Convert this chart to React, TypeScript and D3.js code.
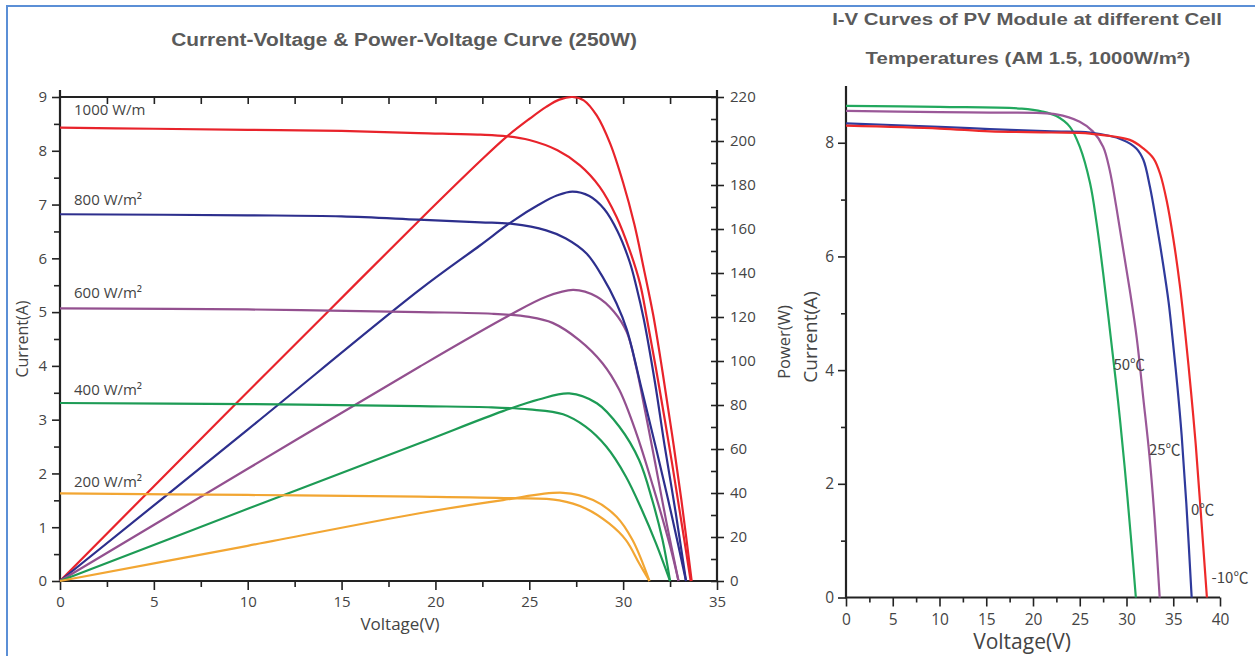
import React, { useEffect, useRef } from 'react'
import * as d3 from 'd3'

type Pt = [number, number]

// ---- left chart: I-V and P-V curves at different irradiance ----
const irrLabels = ['1000 W/m', '800 W/m²', '600 W/m²', '400 W/m²', '200 W/m²']
const irrColors = ['#e8232b', '#2d2f8d', '#93508f', '#1d9b55', '#f2a633']

const iv1000: Pt[] = [[0, 8.43], [5, 8.41], [10, 8.39], [15, 8.37], [19.1, 8.33], [22.4, 8.3], [23.8, 8.27], [25, 8.2], [26.5, 8.01], [27.7, 7.73], [28.75, 7.33], [29.65, 6.77], [30.35, 6.15], [30.9, 5.53], [31.25, 4.91], [31.9, 3.65], [32.6, 2.2], [33.15, 1.0], [33.6, 0]]
const iv800: Pt[] = [[0, 6.82], [10, 6.8], [15, 6.78], [19.1, 6.72], [22.4, 6.67], [24.1, 6.64], [25.9, 6.52], [26.95, 6.37], [28.05, 6.09], [28.9, 5.66], [29.65, 5.16], [30.2, 4.67], [31.0, 3.55], [31.8, 2.4], [32.6, 1.2], [33.35, 0]]
const iv600: Pt[] = [[0, 5.07], [10, 5.05], [19.15, 5.0], [23, 4.97], [25, 4.91], [26.24, 4.8], [27.66, 4.48], [28.9, 4.05], [29.8, 3.55], [30.7, 2.75], [31.6, 1.75], [32.5, 0.65], [32.95, 0]]
const iv400: Pt[] = [[0, 3.31], [10, 3.29], [19.15, 3.25], [23, 3.23], [25, 3.19], [26.8, 3.1], [28.0, 2.87], [29.1, 2.5], [30.15, 1.94], [31.0, 1.32], [31.75, 0.7], [32.5, 0]]
const iv200: Pt[] = [[0, 1.63], [10, 1.6], [19.15, 1.57], [24.1, 1.54], [26.6, 1.5], [28.0, 1.35], [29.25, 1.07], [30.15, 0.76], [30.85, 0.33], [31.4, 0]]

const pv1000: Pt[] = [[0, 0], [9.3, 80], [14.27, 122.4], [19.15, 164], [22.4, 191], [23.8, 202], [25, 210], [25.9, 215.5], [26.6, 218.8], [27.3, 220], [27.9, 218.5], [28.6, 211.5], [29.3, 199], [30.0, 181], [30.6, 162], [31.1, 142], [31.6, 121], [32.1, 95], [32.6, 67], [33.1, 37], [33.65, 0]]
const pv800: Pt[] = [[0, 0], [10, 68.8], [19.15, 132.3], [22.37, 152.5], [24.1, 163.5], [25.5, 171], [26.5, 175.3], [27.3, 177], [28.2, 175], [29.0, 169], [29.7, 159], [30.35, 145], [30.7, 134], [31.1, 119], [31.7, 90], [32.2, 62], [32.8, 31], [33.35, 0]]
const pv600: Pt[] = [[0, 0], [10, 51], [19.15, 97.4], [23.8, 120.1], [25.9, 129.2], [27.35, 132.3], [28.6, 129.2], [29.5, 122.5], [30.2, 113], [30.7, 97], [31.2, 76], [31.7, 54], [32.3, 27], [32.95, 0]]
const pv400: Pt[] = [[0, 0], [10, 32.8], [19.15, 62.6], [23.6, 77.2], [25.5, 82.5], [27.13, 85.3], [28.6, 80.8], [29.8, 70.1], [30.85, 55], [31.55, 36.8], [32.1, 18.6], [32.5, 0]]
const pv200: Pt[] = [[0, 0], [10, 16], [19.15, 30.8], [23.6, 36.8], [26.8, 40.1], [28.4, 36.8], [29.65, 29.2], [30.5, 18.6], [31.4, 0]]

const ivLeft = [iv1000, iv800, iv600, iv400, iv200]
const pvLeft = [pv1000, pv800, pv600, pv400, pv200]
const labelCurrent = [8.66, 7.0, 5.26, 3.46, 1.75]

// ---- right chart: I-V at different cell temperatures ----
const tempLabels = ['50℃', '25℃', '0℃', '-10℃']
const tempColors = ['#22a85e', '#9a5898', '#2f3a9c', '#ee2a2a']
const tempLabelPos: Pt[] = [[28.6, 4.0], [32.4, 2.5], [36.9, 1.45], [39.1, 0.25]]

const iv50: Pt[] = [[0, 8.65], [10, 8.63], [18.8, 8.6], [21, 8.55], [22.5, 8.47], [23.95, 8.28], [25.0, 7.93], [26.1, 7.29], [26.8, 6.59], [27.5, 5.71], [28.3, 4.6], [29.1, 3.45], [29.8, 2.3], [30.45, 1.1], [31.0, 0]]
const iv25: Pt[] = [[0, 8.56], [10, 8.54], [15.4, 8.53], [22.5, 8.5], [25.0, 8.37], [26.4, 8.2], [27.5, 7.93], [28.2, 7.52], [28.9, 6.88], [29.6, 6.17], [30.35, 5.41], [31.1, 4.56], [31.8, 3.5], [32.45, 2.5], [33.0, 1.4], [33.55, 0]]
const iv0: Pt[] = [[0, 8.34], [10, 8.28], [15.4, 8.24], [22, 8.2], [26.1, 8.18], [29.6, 8.05], [31.05, 7.9], [31.8, 7.7], [32.5, 7.23], [33.2, 6.59], [33.9, 5.88], [34.5, 5.2], [34.9, 4.6], [35.45, 3.7], [35.9, 2.85], [36.4, 1.65], [36.97, 0]]
const ivm10: Pt[] = [[0, 8.3], [10, 8.25], [15.4, 8.2], [22, 8.18], [26.1, 8.16], [30.35, 8.05], [31.8, 7.9], [32.9, 7.72], [33.6, 7.45], [34.3, 6.98], [35.0, 6.32], [35.7, 5.5], [36.3, 4.62], [36.9, 3.62], [37.4, 2.7], [37.9, 1.6], [38.6, 0]]
const ivRight = [iv50, iv25, iv0, ivm10]

const tickFont = 'Open Sans, sans-serif'
const titleFont = 'Liberation Sans, Arial, sans-serif'

export default function App() {
  const ref = useRef<SVGSVGElement>(null)

  useEffect(() => {
    const svg = d3.select(ref.current)
    svg.selectAll('*').remove()

    svg.append('rect').attr('x', 7).attr('y', 6).attr('width', 1262).attr('height', 662)
      .attr('fill', 'none').attr('stroke', '#5b8fd6').attr('stroke-width', 2)

    const styleAxis = (g: any, size: number) => {
      g.select('.domain').remove()
      g.selectAll('line').attr('stroke', '#222').attr('stroke-width', 1.6)
      g.selectAll('text').attr('fill', '#444').style('font-family', tickFont).style('font-size', size + 'px')
    }

    // titles are drawn a bit wider than the font, like the source image
    const title = (x: number, y: number, sx: number, size: number, t: string) => {
      svg.append('text').attr('transform', `translate(${x},${y}) scale(${sx},1)`).attr('text-anchor', 'middle')
        .style('font-family', titleFont).style('font-size', size + 'px').style('font-weight', 'bold')
        .attr('fill', '#5a5a5a').text(t)
    }
    const label = (tr: string, size: number, t: string) => {
      svg.append('text').attr('transform', tr).attr('text-anchor', 'middle')
        .style('font-family', tickFont).style('font-size', size + 'px').attr('fill', '#444').text(t)
    }

    // ========== left chart ==========
    const x1 = d3.scaleLinear().domain([0, 35]).range([60, 717])
    const yI = d3.scaleLinear().domain([0, 9]).range([581, 97])
    const yP = d3.scaleLinear().domain([0, 220]).range([581, 97])

    title(404, 46, 1.13, 18.5, 'Current-Voltage & Power-Voltage Curve (250W)')

    const gb = svg.append('g').attr('transform', 'translate(0,581)')
    gb.call(d3.axisBottom(x1).tickValues(d3.range(0, 36, 5)).tickSize(9).tickSizeOuter(0).tickPadding(6))
    styleAxis(gb, 15)
    const gbm = svg.append('g').attr('transform', 'translate(0,581)')
    gbm.call(d3.axisBottom(x1).tickValues(d3.range(2.5, 35, 5)).tickSize(6).tickSizeOuter(0).tickFormat(() => ''))
    styleAxis(gbm, 15)

    const gt = svg.append('g').attr('transform', 'translate(0,97)')
    gt.call(d3.axisBottom(x1).tickValues(d3.range(2.5, 35, 2.5)).tickSize(7).tickSizeOuter(0).tickFormat(() => ''))
    styleAxis(gt, 15)

    const gl = svg.append('g').attr('transform', 'translate(60,0)')
    gl.call(d3.axisLeft(yI).tickValues(d3.range(0, 10, 1)).tickSize(8).tickSizeOuter(0).tickPadding(5))
    styleAxis(gl, 15)
    const glm = svg.append('g').attr('transform', 'translate(60,0)')
    glm.call(d3.axisLeft(yI).tickValues(d3.range(0.5, 9, 1)).tickSize(6).tickSizeOuter(0).tickFormat(() => ''))
    styleAxis(glm, 15)

    const gr = svg.append('g').attr('transform', 'translate(717,0)')
    gr.call(d3.axisRight(yP).tickValues(d3.range(0, 221, 20)).tickSize(7).tickSizeOuter(0).tickPadding(6))
    styleAxis(gr, 15)
    const grm = svg.append('g').attr('transform', 'translate(717,0)')
    grm.call(d3.axisLeft(yP).tickValues(d3.range(0, 221, 10)).tickSize(6).tickSizeOuter(0).tickFormat(() => ''))
    styleAxis(grm, 15)

    svg.append('path')
      .attr('d', `M60,90V581H717V90M60,97H717`)
      .attr('fill', 'none').attr('stroke', '#222').attr('stroke-width', 2.2)

    const smooth = d3.curveCatmullRom.alpha(0.5)
    const lineI = d3.line<Pt>().x(d => x1(d[0])).y(d => yI(d[1])).curve(smooth)
    const lineP = d3.line<Pt>().x(d => x1(d[0])).y(d => yP(d[1])).curve(smooth)

    const lines = svg.append('g').attr('fill', 'none').attr('stroke-width', 2.2)
    pvLeft.forEach((d, i) => lines.append('path').attr('d', lineP(d)).attr('stroke', irrColors[i]))
    ivLeft.forEach((d, i) => lines.append('path').attr('d', lineI(d)).attr('stroke', irrColors[i]))

    irrLabels.forEach((t, i) => {
      svg.append('text').attr('x', 74).attr('y', yI(labelCurrent[i]))
        .style('font-family', tickFont).style('font-size', '15px').attr('fill', '#444').text(t)
    })

    label('translate(400,630)', 17, 'Voltage(V)')
    label('translate(28,339) rotate(-90)', 16, 'Current(A)')
    label('translate(790,342) rotate(-90)', 16.5, 'Power(W)')

    // ========== right chart ==========
    const x2 = d3.scaleLinear().domain([0, 40]).range([846, 1220])
    const y2 = d3.scaleLinear().domain([0, 9]).range([597.5, 85.9])

    title(1027, 25, 1.2, 17, 'I-V Curves of PV Module at different Cell')
    title(1028, 64, 1.2, 17, 'Temperatures (AM 1.5, 1000W/m²)')

    const rb = svg.append('g').attr('transform', 'translate(0,597.5)')
    rb.call(d3.axisBottom(x2).tickValues(d3.range(0, 41, 5)).tickSize(9).tickSizeOuter(0).tickPadding(7))
    styleAxis(rb, 15.5)
    const rbm = svg.append('g').attr('transform', 'translate(0,597.5)')
    rbm.call(d3.axisBottom(x2).tickValues(d3.range(2.5, 40, 5)).tickSize(5).tickSizeOuter(0).tickFormat(() => ''))
    styleAxis(rbm, 15.5)

    const rl = svg.append('g').attr('transform', 'translate(846,0)')
    rl.call(d3.axisLeft(y2).tickValues([0, 2, 4, 6, 8]).tickSize(8).tickSizeOuter(0).tickPadding(4))
    styleAxis(rl, 15.5)
    const rlm = svg.append('g').attr('transform', 'translate(846,0)')
    rlm.call(d3.axisLeft(y2).tickValues([1, 3, 5, 7]).tickSize(5).tickSizeOuter(0).tickFormat(() => ''))
    styleAxis(rlm, 15.5)

    svg.append('path').attr('d', `M846,${y2(9)}V597.5H1220`)
      .attr('fill', 'none').attr('stroke', '#222').attr('stroke-width', 2.2)

    const line2 = d3.line<Pt>().x(d => x2(d[0])).y(d => y2(d[1])).curve(smooth)
    const lines2 = svg.append('g').attr('fill', 'none').attr('stroke-width', 2.2)
    ivRight.forEach((d, i) => lines2.append('path').attr('d', line2(d)).attr('stroke', tempColors[i]))

    tempLabels.forEach((t, i) => {
      svg.append('text').attr('x', x2(tempLabelPos[i][0])).attr('y', y2(tempLabelPos[i][1]))
        .style('font-family', 'Noto Sans CJK SC, sans-serif').style('font-size', '15px').attr('fill', '#444').text(t)
    })

    label('translate(1022,649)', 21, 'Voltage(V)')
    label('translate(817,337) rotate(-90)', 19, 'Current(A)')
  }, [])

  return (
    <svg ref={ref} width={1255} height={656}
      style={{ position: 'absolute', left: 0, top: 0, background: '#fff' }} />
  )
}
